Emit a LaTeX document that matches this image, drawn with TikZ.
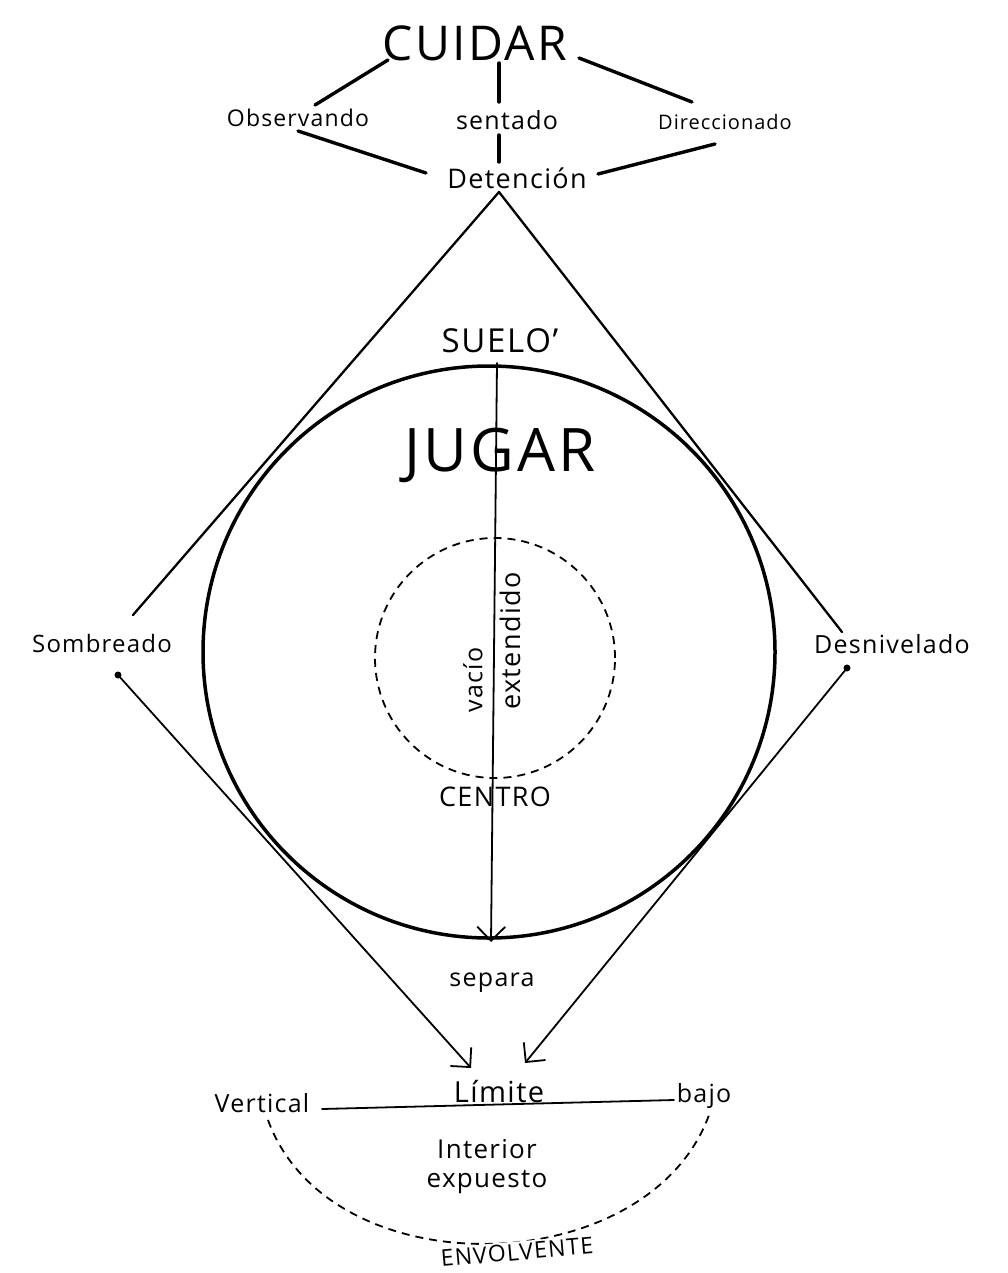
\documentclass[tikz,border=0pt]{standalone}
\usepackage{fontspec}
\setmainfont{Open Sans}
\newfontfamily\hand[LetterSpace=5]{Open Sans}
\usetikzlibrary{arrows.meta}
\begin{document}
\begin{tikzpicture}[x=1pt,y=-1pt,
  lbl/.style={inner sep=0pt, font=\hand\fontsize{23}{26}\selectfont},
  thickline/.style={line width=3.4pt, line cap=round},
  midline/.style={line width=2.3pt, line cap=round},
  thinline/.style={line width=1.8pt, line cap=round},
  vhead/.style={-{Straight Barb[length=14pt,width=28pt,line width=1.8pt]}},
  dashedline/.style={line width=1.8pt, dash pattern=on 8pt off 6pt},
  dotend/.style={circle, fill=black, inner sep=0pt, minimum size=7pt}]
\useasboundingbox (0,0) rectangle (1007,1273);

% top cluster
\node (cuidar) [lbl, font=\hand\fontsize{48}{52}\selectfont] at (475,43) {CUIDAR};
\node (obs) [lbl] at (298,118) {Observando};
\node (sent) [lbl, font=\hand\fontsize{25}{28}\selectfont] at (507,120) {sentado};
\node (dir) [lbl, font=\hand\fontsize{20}{24}\selectfont] at (725,122) {Direccionado};
\node (det) [lbl, font=\hand\fontsize{27}{30}\selectfont] at (517,178) {Detención};

\coordinate (cA1) at (388,60);  \coordinate (oA) at (315,105);
\coordinate (cA2) at (499,63);  \coordinate (sA) at (499,102);
\coordinate (cA3) at (579,58);  \coordinate (dA) at (692,102);
\coordinate (oB) at (298,131);  \coordinate (dtA) at (426,173);
\coordinate (sB) at (499,135);  \coordinate (dtB) at (499,162);
\coordinate (dB) at (715,144);  \coordinate (dtC) at (598,174);
\draw[thickline] (cA1) -- (oA);
\draw[thickline] (cA2) -- (sA);
\draw[thickline] (cA3) -- (dA);
\draw[thickline] (oB) -- (dtA);
\draw[thickline] (sB) -- (dtB);
\draw[thickline] (dB) -- (dtC);

% big circle
\node (suelo) [lbl, font=\hand\fontsize{33}{36}\selectfont] at (500,341) {SUELO’};
\node (ground) [circle, draw, line width=3.5pt, minimum size=572pt, inner sep=0pt] at (489,652) {};
\node (jugar) [lbl, font=\hand\fontsize{60}{64}\selectfont] at (500,455) {JUGAR};
\node (void) [circle, draw, dashedline, minimum size=240pt, inner sep=0pt] at (495,658) {};
\node (vacio) [lbl, rotate=90, font=\hand\fontsize{25}{28}\selectfont] at (473,680) {vacío};
\node (ext) [lbl, rotate=90, font=\hand\fontsize{27}{30}\selectfont] at (510,641) {extendido};
\node (centro) [lbl, font=\hand\fontsize{27}{30}\selectfont] at (495,797) {CENTRO};
\node (separa) [lbl, font=\hand\fontsize{25}{28}\selectfont] at (492,983) {separa};

\coordinate (top) at (497,363);
\coordinate (bot) at (491,942);
\draw[thinline, vhead] (top) -- (bot);

% side lines
\node (somb) [lbl, font=\hand\fontsize{24}{27}\selectfont] at (102,643) {Sombreado};
\node (desn) [lbl, font=\hand\fontsize{25}{28}\selectfont] at (892,644) {Desnivelado};
\coordinate (apex) at (499,192);
\coordinate (sUp) at (133,615);
\coordinate (dUp) at (842,632);
\draw[midline] (apex) -- (sUp);
\draw[midline] (apex) -- (dUp);

\node (sdot) [dotend] at (118,675) {};
\node (ddot) [dotend] at (847,668) {};
\coordinate (lTip) at (471,1068);
\coordinate (rTip) at (525,1063);
\draw[thinline, vhead] (sdot.center) -- (lTip);
\draw[thinline, vhead] (ddot.center) -- (rTip);

% bottom
\node (limite) [lbl, font=\hand\fontsize{29}{32}\selectfont] at (499,1092) {Límite};
\node (vert) [lbl, font=\hand\fontsize{25}{28}\selectfont] at (262,1103) {Vertical};
\node (bajo) [lbl, font=\hand\fontsize{25}{28}\selectfont] at (704,1096) {bajo};
\coordinate (hL) at (322,1109);
\coordinate (hR) at (674,1100);
\draw[thinline] (hL) -- (hR);
\node (inter) [lbl, align=center, font=\hand\fontsize{26}{29}\selectfont] at (487,1167) {Interior\\expuesto};

\coordinate (eL) at (268,1120);
\coordinate (eR) at (709,1115);
\draw[dashedline] (eL) .. controls (330,1290) and (648,1282) .. (eR);
\node (envol) [lbl, fill=white, inner sep=2pt, rotate=5, font=\hand\fontsize{23}{26}\selectfont] at (517,1252) {ENVOLVENTE};
\end{tikzpicture}
\end{document}
